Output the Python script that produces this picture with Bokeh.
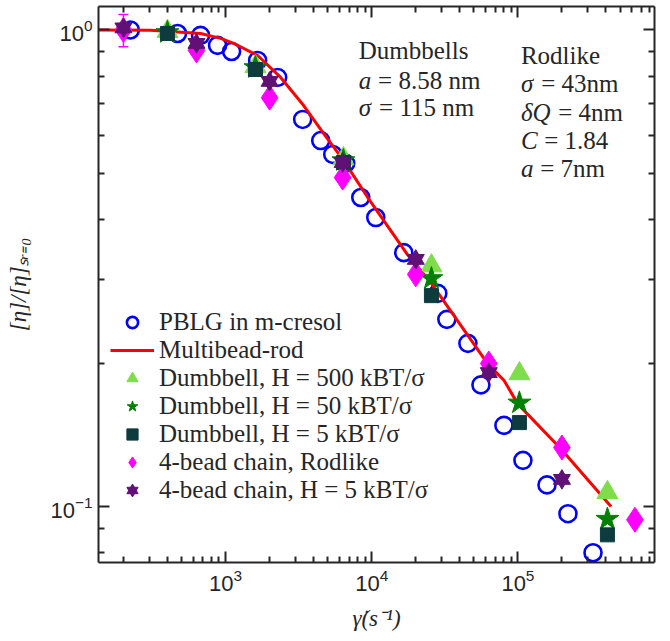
import numpy as np
from bokeh.plotting import figure
from bokeh.models import (LogAxis, Label, Legend, LegendItem, Whisker, FixedTicker,
                          ColumnDataSource, CustomJSTickFormatter, Range1d, TeeHead,
                          LogTickFormatter)
from bokeh.embed import file_html
from bokeh.resources import INLINE

# ---------------- data ----------------
# PBLG in m-cresol (experiment)
pblg_rate = [223, 469, 674, 881, 1099, 1656, 2270, 3367, 4474, 5408, 6637, 8410, 10650,
             16560, 28300, 32640, 45470, 55840, 80200, 108200, 158100, 219900, 326400]
pblg_eta = [1.00, 0.983, 0.974, 0.928, 0.901, 0.863, 0.795, 0.649, 0.586, 0.548, 0.525,
            0.445, 0.404, 0.341, 0.280, 0.247, 0.220, 0.180, 0.148, 0.125, 0.111, 0.0966, 0.080]

# Multibead-rod model curve
rod_rate = [135, 306, 674, 924, 1135, 1656, 2381, 3420, 4690, 6428, 9390, 17650, 25370,
            62350, 80200, 100000, 197200, 433600]
rod_eta = [1.0, 0.998, 0.983, 0.960, 0.937, 0.884, 0.795, 0.694, 0.606, 0.532, 0.445,
           0.337, 0.295, 0.199, 0.184, 0.164, 0.132, 0.100]

# Dumbbell simulations
db_rate = [400, 1600, 6400, 25600, 102400, 409600]
db_h500 = [0.993, 0.838, 0.537, 0.320, 0.190, 0.107]
db_h50 = [0.988, 0.834, 0.532, 0.301, 0.165, 0.0941]
db_h5 = [0.983, 0.826, 0.527, 0.277, 0.150, 0.0872]

# 4-bead chain simulations
chain_rate = [200, 632, 2000, 6320, 20000, 63200, 200000, 632000]
chain_rod = [1.0, 0.906, 0.721, 0.490, 0.307, 0.1996, 0.133, 0.0938]
chain_rod_err = [0.078, 0, 0, 0, 0, 0, 0, 0]
chain_h5_rate = [200, 632, 2000, 6320, 20000, 63200, 200000]
chain_h5 = [1.01, 0.937, 0.780, 0.527, 0.330, 0.191, 0.114]

# axis ticks
y_major = [0.1, 1.0]
y_minor = [0.08, 0.09, 0.2, 0.3, 0.4, 0.5, 0.6, 0.7, 0.8, 0.9]
x_major = [1e3, 1e4, 1e5]
x_minor = [200, 300, 400, 500, 600, 700, 800, 900,
           2e3, 3e3, 4e3, 5e3, 6e3, 7e3, 8e3, 9e3,
           2e4, 3e4, 4e4, 5e4, 6e4, 7e4, 8e4, 9e4,
           2e5, 3e5, 4e5, 5e5, 6e5, 7e5, 8e5]

legend_labels = ["PBLG in m-cresol", "Multibead-rod",
                 "Dumbbell, H = 500 kBT/σ", "Dumbbell, H = 50 kBT/σ",
                 "Dumbbell, H = 5 kBT/σ", "4-bead chain, Rodlike",
                 "4-bead chain, H = 5 kBT/σ"]

# ---------------- figure ----------------
AX = "#262626"
SERIF = "Liberation Serif"
NB = "\u00a0"

p = figure(width=670, height=641, x_axis_type="log", y_axis_type="log",
           x_range=Range1d(135, 8.6e5), y_range=Range1d(0.0763, 1.12),
           output_backend="svg", toolbar_location=None,
           min_border_left=98, min_border_right=16, min_border_top=6, min_border_bottom=79)
p.xgrid.visible = False
p.ygrid.visible = False
p.outline_line_color = None
p.background_fill_color = "white"
p.border_fill_color = "white"

top_ax = LogAxis()
right_ax = LogAxis()
p.add_layout(top_ax, "above")
p.add_layout(right_ax, "right")

xb = p.below[0]
yl = p.left[0]

for ax in (xb, top_ax):
    ax.ticker = FixedTicker(ticks=x_major, minor_ticks=x_minor)
for ax in (yl, right_ax):
    ax.ticker = FixedTicker(ticks=y_major, minor_ticks=y_minor)

for ax in (xb, yl, top_ax, right_ax):
    ax.axis_line_color = AX
    ax.axis_line_width = 2
    ax.major_tick_line_color = AX
    ax.minor_tick_line_color = AX
    ax.major_tick_line_width = 2
    ax.minor_tick_line_width = 2
    ax.major_tick_in = 11
    ax.major_tick_out = 0
    ax.minor_tick_in = 6
    ax.minor_tick_out = 0
    ax.major_label_text_font = "Liberation Sans"
    ax.major_label_text_font_size = "22px"
    ax.major_label_text_color = AX

xb.formatter = LogTickFormatter()
yl.formatter = LogTickFormatter()

for ax in (top_ax, right_ax):
    ax.formatter = CustomJSTickFormatter(code="return ''")
    ax.major_label_standoff = 0
    ax.major_label_text_font_size = "1px"
    ax.axis_label = None

xb.axis_label = "γ̇(s⁻¹)"
yl.axis_label = "[η]/[η]ₛᵣ₌₀"
for ax in (xb, yl):
    ax.axis_label_text_font = SERIF
    ax.axis_label_text_font_style = "italic"
    ax.axis_label_text_font_size = "23px"
    ax.axis_label_text_color = AX
    ax.major_label_standoff = 6
xb.axis_label_standoff = 12
yl.axis_label_standoff = 16

# ---------------- glyphs ----------------
r_pblg = p.scatter(pblg_rate, pblg_eta, marker="circle", size=17, fill_color=None,
                   line_color="#0000FF", line_width=2.6)
r_rod = p.line(rod_rate, rod_eta, line_color="#FF0000", line_width=3)
r_500 = p.scatter(db_rate, db_h500, marker="triangle", size=21, fill_color="#7FDD4C",
                  line_color="#7FDD4C")
r_50 = p.scatter(db_rate, db_h50, marker="star", size=24, fill_color="#008000",
                 line_color="#008000")
r_5 = p.scatter(db_rate, db_h5, marker="square", size=14, fill_color="#0E3B3E",
                line_color="#0E3B3E")

# error bars of 4-bead rodlike chain
eb_x = [x for x, e in zip(chain_rate, chain_rod_err) if e > 0]
eb_up = [y + e for y, e in zip(chain_rod, chain_rod_err) if e > 0]
eb_lo = [y - e for y, e in zip(chain_rod, chain_rod_err) if e > 0]
esrc = ColumnDataSource(dict(base=eb_x, upper=eb_up, lower=eb_lo))
p.add_layout(Whisker(source=esrc, base="base", upper="upper", lower="lower",
                     line_color="#FF00FF", line_width=1.5,
                     upper_head=TeeHead(size=10, line_color="#FF00FF", line_width=1.5),
                     lower_head=TeeHead(size=10, line_color="#FF00FF", line_width=1.5)))

r_cr = p.scatter(chain_rate, chain_rod, marker="diamond", size=25, fill_color="#FF00FF",
                 line_color="#FF00FF")
r_ch1 = p.scatter(chain_h5_rate, chain_h5, marker="triangle", size=17, fill_color="#611075",
                  line_color="#611075")
r_ch2 = p.scatter(chain_h5_rate, chain_h5, marker="inverted_triangle", size=17,
                  fill_color="#611075", line_color="#611075")

# ---------------- legend ----------------
items = [LegendItem(label=legend_labels[0], renderers=[r_pblg]),
         LegendItem(label=legend_labels[1], renderers=[r_rod]),
         LegendItem(label=legend_labels[2], renderers=[r_500]),
         LegendItem(label=legend_labels[3], renderers=[r_50]),
         LegendItem(label=legend_labels[4], renderers=[r_5]),
         LegendItem(label=legend_labels[5], renderers=[r_cr]),
         LegendItem(label=legend_labels[6], renderers=[r_ch1, r_ch2])]
legend = Legend(items=items, location=(12, 58), border_line_color=None,
                background_fill_alpha=0, padding=4, margin=0, spacing=0,
                glyph_width=44, glyph_height=28, label_height=28, label_standoff=5,
                label_text_font=SERIF, label_text_font_size="25px",
                label_text_color=AX)
p.add_layout(legend)

# ---------------- annotations ----------------
def put(x, y, txt, italic=False, dx=0):
    p.add_layout(Label(x=x, y=y, text=txt, x_offset=dx, text_font=SERIF,
                       text_font_size="25px", text_color=AX, text_baseline="middle",
                       text_font_style="italic" if italic else "normal"))

put(8150, 0.906, "Dumbbells")
put(8150, 0.783, "a", italic=True)
put(8150, 0.783, NB + "= 8.58 nm", dx=13)
put(8150, 0.688, "σ", italic=True)
put(8150, 0.688, NB + "= 115 nm", dx=14)

put(104800, 0.884, "Rodlike")
put(104800, 0.772, "σ", italic=True)
put(104800, 0.772, NB + "= 43nm", dx=14)
put(104800, 0.671, "δQ", italic=True)
put(104800, 0.671, NB + "= 4nm", dx=31)
put(104800, 0.586, "C", italic=True)
put(104800, 0.586, NB + "= 1.84", dx=17)
put(104800, 0.512, "a", italic=True)
put(104800, 0.512, NB + "= 7nm", dx=13)

open("out.html", "w").write(file_html(p, INLINE))
